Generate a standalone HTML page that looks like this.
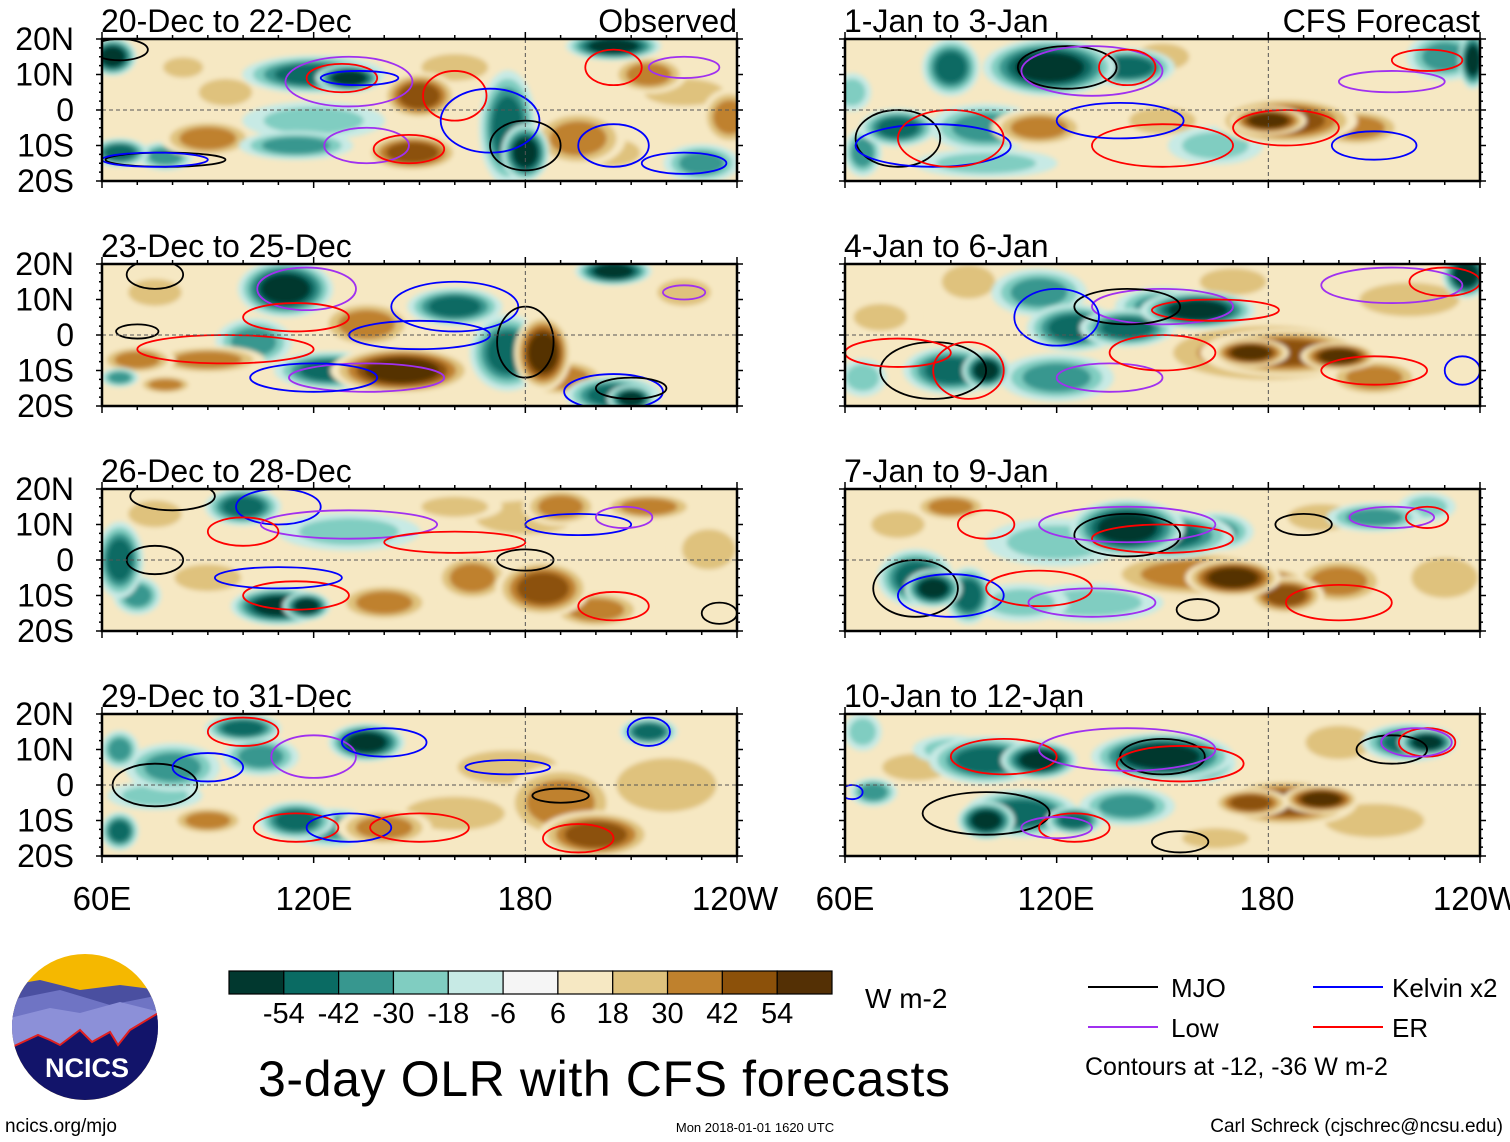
<!DOCTYPE html>
<html><head><meta charset="utf-8"><style>
html,body{margin:0;padding:0;background:#fff;width:1510px;height:1142px;overflow:hidden}
svg text{font-family:"Liberation Sans",Arial,sans-serif}
</style></head><body>
<svg id="fig" width="1510" height="1142" viewBox="0 0 1510 1142" xmlns="http://www.w3.org/2000/svg">
<defs>
<filter id="blur" x="-20%" y="-20%" width="140%" height="140%"><feGaussianBlur stdDeviation="2.5"/></filter>
</defs>
<g id="panels"></g>
<g font-size="33" text-anchor="middle">
<text x="102" y="910">60E</text><text x="314" y="910">120E</text><text x="525" y="910">180</text><text x="735" y="910">120W</text>
</g>
<g font-size="33" text-anchor="middle">
<text x="845" y="910">60E</text><text x="1056" y="910">120E</text><text x="1267" y="910">180</text><text x="1476" y="910">120W</text>
</g>
<g id="cbar"></g>
<text x="865" y="1008" font-size="28">W m-2</text>
<text x="258" y="1096" font-size="50" textLength="692">3-day OLR with CFS forecasts</text>
<g font-size="26">
<g><line x1="1088" y1="987" x2="1158" y2="987" stroke="#000" stroke-width="2"/><text x="1171" y="997">MJO</text></g>
<g><line x1="1088" y1="1027" x2="1158" y2="1027" stroke="#a030f0" stroke-width="2"/><text x="1171" y="1037">Low</text></g>
<g><line x1="1313" y1="987" x2="1383" y2="987" stroke="#0000ff" stroke-width="2"/><text x="1392" y="997">Kelvin x2</text></g>
<g><line x1="1313" y1="1027" x2="1383" y2="1027" stroke="#ff0000" stroke-width="2"/><text x="1392" y="1037">ER</text></g>
<text x="1085" y="1075" font-size="25">Contours at -12, -36 W m-2</text>
</g>
<g>
<clipPath id="logoclip"><circle cx="85" cy="1027" r="73"/></clipPath>
<g clip-path="url(#logoclip)">
<rect x="10" y="952" width="150" height="150" fill="#f5b800"/>
<path d="M10 985 L40 980 L80 990 L120 985 L160 990 L160 1030 L10 1030Z" fill="#4a4fa0"/>
<path d="M10 1000 L60 990 L110 1005 L160 995 L160 1040 L10 1040Z" fill="#6f74c4"/>
<path d="M10 1018 L50 1008 L80 1013 L120 1002 L160 1012 L160 1045 L10 1045Z" fill="#8c90d8"/>
<path d="M10 1048 L38 1035 L50 1040 L60 1045 L80 1030 L92 1042 L110 1032 L118 1045 L130 1030 L160 1012 L160 1102 L10 1102Z" fill="#12146a" stroke="#e02020" stroke-width="2"/>
</g>
<text x="87" y="1077" font-size="27" font-weight="bold" fill="#fff" text-anchor="middle">NCICS</text>
</g>
<text x="5" y="1132" font-size="19">ncics.org/mjo</text>
<text x="755" y="1132" font-size="13" text-anchor="middle">Mon 2018-01-01 1620 UTC</text>
<text x="1503" y="1132" font-size="19" text-anchor="end">Carl Schreck (cjschrec@ncsu.edu)</text>
</svg>
<script>
const levels = [-54,-42,-30,-18,-6,6,18,30,42,54];
const colors = ["#01382f","#0a6b63","#37978f","#80cdc1","#c7eae5","#f5f5f5","#f6e8c3","#dfc27d","#bf812d","#8c510a","#543005"];
const cbarLabels = ["-54","-42","-30","-18","-6","6","18","30","42","54"];
const titles = ["20-Dec to 22-Dec","1-Jan to 3-Jan","23-Dec to 25-Dec","4-Jan to 6-Jan","26-Dec to 28-Dec","7-Jan to 9-Jan","29-Dec to 31-Dec","10-Jan to 12-Jan"];
const latLabels = ["20N","10N","0","10S","20S"];
const latTicks = [20,10,0,-10,-20];
// blobs: [lon, lat, rxDeg, ryDeg, anomaly]
const blobs0 = [[63,15,5,4,-54],[65,-12,6,3,-42],[78,-13,6,3,-30],[95,5,8,4,18],[90,-8,10,4,30],[120,10,15,4,-42],[130,9,7,3,-54],[120,-3,15,4,-18],[115,-10,12,3,-30],[150,4,8,5,42],[148,-12,10,4,42],[175,-5,6,12,-42],[180,-12,5,6,-54],[195,-8,10,6,30],[205,-12,8,4,18],[205,18,10,3,-54],[215,10,8,4,30],[230,-15,8,4,-30],[160,12,10,4,18],[83,12,6,3,18],[225,5,12,4,18],[238,-2,6,6,30]];
const blobs1 = [[90,12,6,6,-42],[118,12,14,6,-54],[140,12,10,4,-42],[100,-5,12,5,-30],[75,-5,8,4,-42],[65,-12,4,5,-30],[115,-5,10,4,30],[150,-3,10,4,18],[185,-3,15,5,42],[180,-3,8,3,54],[205,-5,10,4,30],[150,15,8,4,18],[230,15,8,5,-30],[238,14,3,6,-54],[165,-10,10,4,-18],[100,-15,15,3,-18],[62,5,4,4,-18]];
const blobs2 = [[75,12,8,4,18],[112,13,10,6,-54],[103,-2,8,5,-30],[90,-7,12,3,30],[70,-7,8,3,30],[125,-10,12,4,-42],[145,-10,15,5,54],[135,3,10,5,30],[160,8,10,4,-42],[175,-5,8,8,-42],[185,-5,6,8,54],[190,-12,10,4,30],[205,-17,10,4,-42],[210,-18,5,3,-54],[205,18,8,3,-54],[225,12,8,4,18],[78,-14,6,2,30],[65,-12,4,2,-30]];
const blobs3 = [[70,5,8,4,18],[95,15,8,5,18],[115,12,10,5,-30],[125,2,10,5,-42],[140,2,10,4,-42],[160,7,12,4,-54],[150,8,10,4,-30],[90,-10,10,5,-42],[100,-10,5,4,-54],[120,-12,12,5,-30],[180,-5,25,7,30],[185,-5,18,5,42],[200,-6,8,3,54],[175,-5,8,3,54],[170,15,10,4,18],[236,17,5,5,-54],[210,-12,10,4,30],[220,10,15,5,18],[65,-12,5,4,-18]];
const blobs4 = [[75,13,8,4,18],[100,15,8,4,-42],[65,0,5,8,-42],[70,-10,5,4,-30],[110,-13,10,4,-54],[118,-13,5,3,-54],[140,-12,10,4,30],[185,-8,10,6,42],[200,-14,10,4,30],[165,-5,8,5,30],[130,8,15,4,-18],[180,12,15,5,18],[190,15,8,4,30],[215,15,10,3,30],[90,-5,10,4,18],[160,15,10,3,18],[232,3,8,6,18]];
const blobs5 = [[80,-5,8,6,-42],[85,-8,6,4,-54],[95,-10,5,6,-42],[140,9,12,6,-54],[150,7,15,5,-42],[120,5,15,5,-18],[165,8,8,4,-30],[160,-4,20,5,30],[170,-5,10,4,54],[180,-6,8,3,42],[200,-6,10,5,30],[185,-10,8,4,42],[210,12,10,3,-30],[225,15,6,3,-18],[75,10,8,4,18],[90,15,8,3,30],[130,-12,15,4,-18],[110,-12,10,4,-18],[195,12,10,4,18],[230,-5,10,6,18]];
const blobs6 = [[65,-13,4,4,-42],[80,5,10,5,-30],[75,-3,10,3,-18],[100,16,8,3,-42],[105,8,8,4,-30],[135,12,8,4,-54],[125,-12,10,4,-30],[115,-10,8,4,-42],[140,-12,10,4,30],[160,-8,15,5,18],[190,-5,12,8,30],[200,-14,12,5,42],[175,5,15,5,18],[215,15,6,3,-42],[90,-10,8,3,30],[220,0,15,8,18],[65,10,4,4,-30]];
const blobs7 = [[100,7,12,5,-42],[115,7,8,4,-54],[150,8,15,5,-54],[160,6,8,4,-42],[110,-8,12,5,-42],[100,-10,6,4,-54],[125,-10,6,3,-42],[140,-6,10,4,-30],[185,-5,15,5,42],[195,-4,8,3,54],[175,-5,8,3,42],[220,12,10,4,-42],[225,12,6,3,-54],[65,15,4,4,-18],[80,5,10,4,18],[90,10,8,3,-18],[200,12,10,5,18],[210,-10,15,5,18],[165,-15,10,3,18],[68,-2,5,3,-30]];
// contours: [lon, lat, rxDeg, ryDeg, type]
const cont0 = [[65,17,8,3,'k'],[130,8,18,7,'p'],[128,9,10,4,'r'],[133,9,11,2,'b'],[135,-10,12,5,'p'],[147,-11,10,4,'r'],[78,-14,17,2,'k'],[75,-14,15,2,'b'],[160,4,9,7,'r'],[170,-3,14,9,'b'],[180,-10,10,7,'k'],[205,-10,10,6,'b'],[225,-15,12,3,'b'],[205,12,8,5,'r'],[225,12,10,3,'p']];
const cont1 = [[123,12,14,6,'k'],[130,11,20,7,'p'],[140,12,8,5,'r'],[75,-8,12,8,'k'],[85,-10,22,6,'b'],[90,-8,15,8,'r'],[150,-10,20,6,'r'],[185,-5,15,5,'r'],[210,-10,12,4,'b'],[215,8,15,3,'p'],[225,14,10,3,'r'],[138,-3,18,5,'b']];
const cont2 = [[75,17,8,4,'k'],[118,13,14,6,'p'],[115,5,15,4,'r'],[160,8,18,7,'b'],[180,-2,8,10,'k'],[150,0,20,4,'b'],[95,-4,25,4,'r'],[70,1,6,2,'k'],[135,-12,22,4,'p'],[120,-12,18,4,'b'],[205,-16,14,5,'b'],[210,-15,10,3,'k'],[225,12,6,2,'p']];
const cont3 = [[150,8,20,5,'p'],[165,7,18,3,'r'],[140,8,15,5,'k'],[120,5,12,8,'b'],[85,-10,15,8,'k'],[95,-10,10,8,'r'],[75,-5,15,4,'r'],[135,-12,15,4,'p'],[150,-5,15,5,'r'],[215,14,20,5,'p'],[230,15,10,4,'r'],[210,-10,15,4,'r'],[235,-10,5,4,'b']];
const cont4 = [[80,18,12,4,'k'],[110,15,12,5,'b'],[130,10,25,4,'p'],[115,-10,15,4,'r'],[110,-5,18,3,'b'],[180,0,8,3,'k'],[75,0,8,4,'k'],[205,-13,10,4,'r'],[195,10,15,3,'b'],[208,12,8,3,'p'],[160,5,20,3,'r'],[235,-15,5,3,'k'],[100,8,10,4,'r']];
const cont5 = [[80,-8,12,8,'k'],[90,-10,15,6,'b'],[140,7,15,6,'k'],[150,6,20,4,'r'],[140,10,25,5,'p'],[100,10,8,4,'r'],[115,-8,15,5,'r'],[130,-12,18,4,'p'],[200,-12,15,5,'r'],[215,12,12,3,'p'],[225,12,6,3,'r'],[190,10,8,3,'k'],[160,-14,6,3,'k']];
const cont6 = [[75,0,12,6,'k'],[90,5,10,4,'b'],[100,15,10,4,'r'],[120,8,12,6,'p'],[140,12,12,4,'b'],[115,-12,12,4,'r'],[130,-12,12,4,'b'],[150,-12,14,4,'r'],[190,-3,8,2,'k'],[215,15,6,4,'b'],[175,5,12,2,'b'],[195,-15,10,4,'r']];
const cont7 = [[100,-8,18,6,'k'],[105,8,15,5,'r'],[150,8,12,5,'k'],[155,6,18,5,'r'],[140,10,25,6,'p'],[125,-12,10,4,'r'],[120,-12,10,3,'p'],[215,10,10,4,'k'],[225,12,8,4,'r'],[222,12,10,4,'p'],[155,-16,8,3,'k'],[62,-2,3,2,'b']];

const allBlobs=[blobs0,blobs1,blobs2,blobs3,blobs4,blobs5,blobs6,blobs7];
const allCont=[cont0,cont1,cont2,cont3,cont4,cont5,cont6,cont7];
const cmap={k:"#000000",p:"#a030f0",r:"#ff0000",b:"#0000ff"};
const NS="http://www.w3.org/2000/svg";
const PW=635, PH=142;
const colX=[102,845], rowY=[39,264,489,714];
function colorFor(v){let i=0;while(i<levels.length&&v>levels[i])i++;return colors[i];}
function mk(tag,attrs,parent){const e=document.createElementNS(NS,tag);for(const k in attrs)e.setAttribute(k,attrs[k]);parent.appendChild(e);return e;}
const root=document.getElementById('panels');
for(let p=0;p<8;p++){
  const x0=colX[p%2], y0=rowY[Math.floor(p/2)];
  const sx=lon=>x0+(lon-60)/180*PW;
  const sy=lat=>y0+(20-lat)/40*PH;
  const g=mk('g',{},root);
  
  
  const cp=mk('clipPath',{id:'cp'+p},g);
  mk('rect',{x:x0,y:y0,width:PW,height:PH},cp);
  const inner=mk('g',{'clip-path':'url(#cp'+p+')'},g);
  mk('rect',{x:x0,y:y0,width:PW,height:PH,fill:colors[6]},inner);
  const fg=mk('g',{filter:'url(#blur)'},inner);
  const bl=allBlobs[p].slice().sort((a,b)=>Math.abs(a[4])-Math.abs(b[4]));
  for(const b of bl){
    const mag=Math.abs(b[4]), sgn=Math.sign(b[4]);
    let steps=[];for(let v=6;v<=mag;v+=12)steps.push(sgn*(v+1));
    // start with a light ring for negatives (white/light teal halo)
    steps.forEach((v,i)=>{
      const f=1.35*(1-i*0.6/steps.length);
      const e=mk('ellipse',{cx:sx(b[0]),cy:sy(b[1]),rx:b[2]/180*PW*f,ry:b[3]/40*PH*f,fill:colorFor(v)},fg);
      
      
    });
  }
  for(const c of allCont[p]){
    const e=mk('ellipse',{cx:sx(c[0]),cy:sy(c[1]),rx:c[2]/180*PW,ry:c[3]/40*PH,fill:'none',stroke:cmap[c[4]],'stroke-width':1.8},inner);
    
    
  }
  mk('line',{x1:x0,y1:sy(0),x2:x0+PW,y2:sy(0),stroke:'#555','stroke-width':1,'stroke-dasharray':'4 3'},inner);
  mk('line',{x1:sx(180),y1:y0,x2:sx(180),y2:y0+PH,stroke:'#555','stroke-width':1,'stroke-dasharray':'4 3'},inner);
  for(let lon=60;lon<=240;lon+=10){
    const L=(lon%60===0)?7:4;
    mk('line',{x1:sx(lon),y1:y0,x2:sx(lon),y2:y0-L,stroke:'#000','stroke-width':1.5},g);
    mk('line',{x1:sx(lon),y1:y0+PH,x2:sx(lon),y2:y0+PH+L,stroke:'#000','stroke-width':1.5},g);
  }
  for(let lat=-20;lat<=20;lat+=2.5){
    const L=(lat%10===0)?6:3;
    mk('line',{x1:x0,y1:sy(lat),x2:x0-L,y2:sy(lat),stroke:'#000','stroke-width':1.5},g);
    mk('line',{x1:x0+PW,y1:sy(lat),x2:x0+PW+L,y2:sy(lat),stroke:'#000','stroke-width':1.5},g);
  }
  mk('rect',{x:x0,y:y0,width:PW,height:PH,fill:'none',stroke:'#000','stroke-width':2.5},g);
  if(p%2===0){
    latTicks.forEach((lt,i)=>{
      const t=mk('text',{x:x0-28,y:sy(lt)+11,'font-size':32,'text-anchor':'end'},g);
      t.textContent=latLabels[i];
      
      
    });
  }
  const t=mk('text',{x:x0-1,y:y0-7,'font-size':32},g);
  t.textContent=titles[p];
  
  
  if(p<2){
    const r=mk('text',{x:x0+PW,y:y0-7,'font-size':32,'text-anchor':'end'},g);
    r.textContent=p===0?'Observed':'CFS Forecast';
    
    
  }
}
const cb=document.getElementById('cbar');
const cbx=229,cby=971,cbw=603/11,cbh=23;
colors.forEach((c,i)=>{
  const r=mk('rect',{x:cbx+i*cbw,y:cby,width:cbw,height:cbh,fill:c,stroke:'#000','stroke-width':1.2},cb);
  
  
});
cbarLabels.forEach((l,i)=>{
  const t=mk('text',{x:cbx+(i+1)*cbw,y:1023,'font-size':29,'text-anchor':'middle'},cb);
  t.textContent=l;
  
  
});
</script>
</body></html>
